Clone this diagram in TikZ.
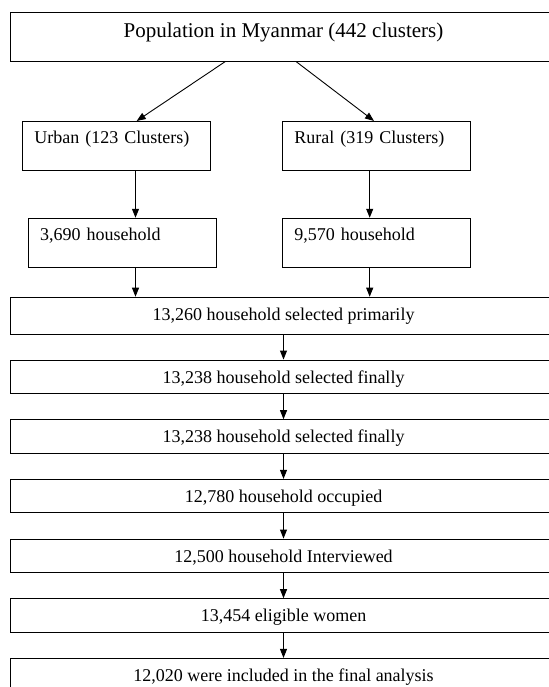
\documentclass[tikz,border=0pt]{standalone}
\usepackage{fontspec}
\setmainfont{Liberation Serif}
\usetikzlibrary{arrows.meta,calc}
\tikzset{
  headbox/.style={draw, line width=0.9pt, minimum width=545.6pt, inner xsep=0pt, inner ysep=0pt,
    text height=25.7pt, text depth=23.3pt, font=\fontsize{21pt}{24pt}\selectfont},
  sidebox/.style={draw, line width=0.9pt, text width=164.4pt, align=left, inner xsep=12pt, inner ysep=0pt,
    text height=22.2pt, text depth=27pt, font=\fontsize{18pt}{21pt}\selectfont},
  stagebox/.style={draw, line width=0.9pt, minimum width=545.6pt, inner xsep=0pt, inner ysep=0pt,
    text height=23pt, text depth=10.5pt, font=\fontsize{18pt}{21pt}\selectfont},
  arrow/.style={line width=0.9pt, -{Triangle[length=9pt,width=7pt]}}
}
\begin{document}
\begin{tikzpicture}[x=1pt,y=-1pt]
			%%%%% START %%%%%
			\useasboundingbox[fill=white] (0,0) rectangle (548,687);
			
			\node[headbox] (pop) at (283.5, 36.8) {Population in Myanmar (442 clusters)};
			
			\node[sidebox] (urban) at (116.5, 146) {Urban (123 Clusters)};
			\node[sidebox] (rural) at (376.5, 146) {Rural (319 Clusters)};
			
			\node[sidebox] (hhurban) at (122.3, 242.8) {3,690 household};
			\node[sidebox] (hhrural) at (376.5, 242.8) {9,570 household};
			
			\node[stagebox, text depth=14.3pt] (primary) at (283.5, 315.8) {13,260 household selected primarily};
			\node[stagebox] (final) at (283.5, 376.75) {13,238 household selected finally};
			\node[stagebox] (finalb) at (283.5, 436.4) {13,238 household selected finally};
			\node[stagebox] (occupied) at (283.5, 496.1) {12,780 household occupied};
			\node[stagebox] (interview) at (283.5, 555.75) {12,500 household Interviewed};
			\node[stagebox] (women) at (283.5, 615.4) {13,454 eligible women};
			\node[stagebox] (analysis) at (283.5, 675.1) {12,020 were included in the final analysis};
			
			\coordinate (lcol) at (135.5, 0);
			\coordinate (rcol) at (369.7, 0);
			
			\draw[arrow] ([xshift=-58.5pt]pop.south) -- ([xshift=20.2pt]urban.north);
			\draw[arrow] ([xshift=12.8pt]pop.south) -- ([xshift=-2.5pt]rural.north);
			
			\draw[arrow] (urban.south -| lcol) -- (hhurban.north -| lcol);
			\draw[arrow] (rural.south -| rcol) -- (hhrural.north -| rcol);
			\draw[arrow] (hhurban.south -| lcol) -- (primary.north -| lcol);
			\draw[arrow] (hhrural.south -| rcol) -- (primary.north -| rcol);
			
			\draw[arrow] (primary) -- (final);
			\draw[arrow] (final) -- (finalb);
			\draw[arrow] (finalb) -- (occupied);
			\draw[arrow] (occupied) -- (interview);
			\draw[arrow] (interview) -- (women);
			\draw[arrow] (women) -- (analysis);
			
			%%%%% END %%%%%
\end{tikzpicture}
\end{document}
